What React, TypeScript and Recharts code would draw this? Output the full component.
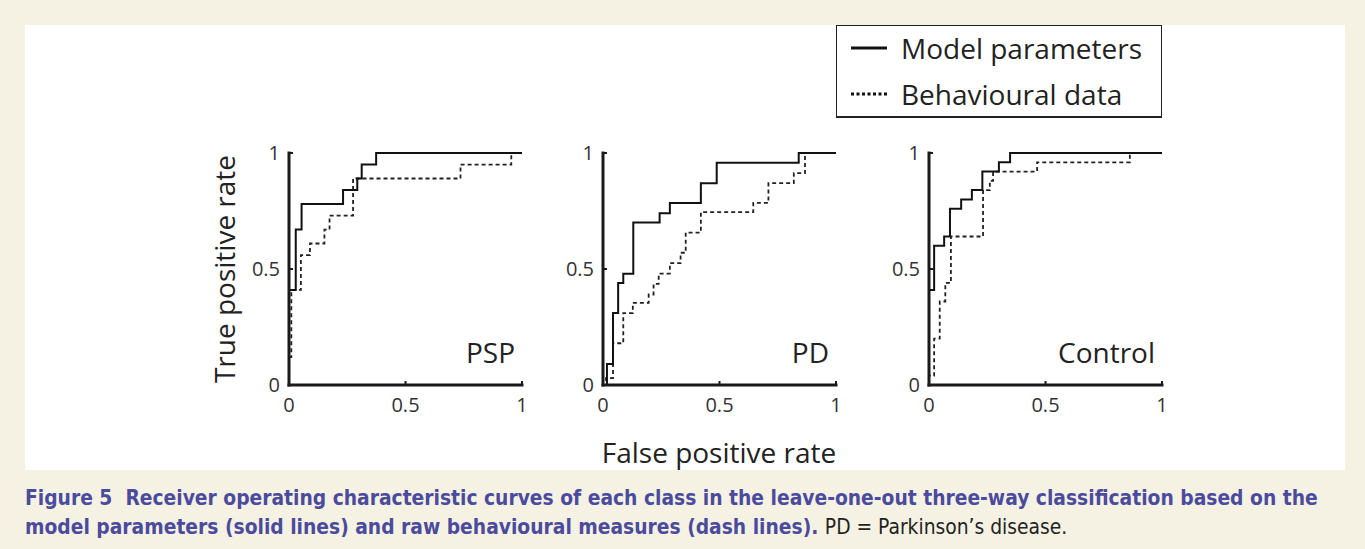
import React from 'react';
import { LineChart, Line, XAxis, YAxis } from 'recharts';

// axis ticks shared by every panel
const axisTicks = [0, 0.5, 1];
const axisTickLabels = ['0', '0.5', '1'];

const panelNames = ['PSP', 'PD', 'Control'];
const seriesNames = ['Model parameters', 'Behavioural data'];

// ROC vertices (false positive rate, true positive rate)
const pspModelFpr = [0, 0, 0.029, 0.054, 0.232, 0.293, 0.312, 0.374, 1];
const pspModelTpr = [0, 0.41, 0.67, 0.78, 0.84, 0.89, 0.95, 1, 1];
const pspBehavFpr = [0, 0, 0.01, 0.051, 0.09, 0.152, 0.174, 0.275, 0.736, 0.954, 1];
const pspBehavTpr = [0, 0.12, 0.41, 0.56, 0.61, 0.67, 0.73, 0.89, 0.95, 1, 1];

const pdModelFpr = [0, 0.017, 0.043, 0.065, 0.087, 0.13, 0.243, 0.287, 0.42, 0.488, 0.84, 1];
const pdModelTpr = [0, 0.09, 0.31, 0.44, 0.48, 0.7, 0.74, 0.785, 0.87, 0.958, 1, 1];
const pdBehavFpr = [0, 0.013, 0.043, 0.087, 0.128, 0.196, 0.217, 0.239, 0.287, 0.333, 0.355, 0.42, 0.645, 0.71, 0.819, 0.867, 1];
const pdBehavTpr = [0, 0.03, 0.18, 0.31, 0.354, 0.39, 0.436, 0.48, 0.525, 0.57, 0.657, 0.745, 0.785, 0.87, 0.913, 1, 1];

const ctrlModelFpr = [0, 0, 0.022, 0.065, 0.09, 0.138, 0.184, 0.229, 0.3, 0.348, 1];
const ctrlModelTpr = [0, 0.41, 0.6, 0.64, 0.76, 0.8, 0.84, 0.92, 0.96, 1, 1];
const ctrlBehavFpr = [0, 0, 0.022, 0.046, 0.07, 0.094, 0.232, 0.261, 0.275, 0.464, 0.862, 1];
const ctrlBehavTpr = [0, 0.04, 0.2, 0.36, 0.44, 0.64, 0.84, 0.88, 0.92, 0.96, 1, 1];

const zip = (fpr: number[], tpr: number[]) => fpr.map((f, i) => ({ fpr: f, tpr: tpr[i] }));

const panels = [
  { name: panelNames[0], model: zip(pspModelFpr, pspModelTpr), behav: zip(pspBehavFpr, pspBehavTpr), left: 240 },
  { name: panelNames[1], model: zip(pdModelFpr, pdModelTpr), behav: zip(pdBehavFpr, pdBehavTpr), left: 554 },
  { name: panelNames[2], model: zip(ctrlModelFpr, ctrlModelTpr), behav: zip(ctrlBehavFpr, ctrlBehavTpr), left: 880 },
];

const FONT = '"Open Sans", "Noto Sans", sans-serif';
const INK = '#1a1a1a';
const fmt = (v: number) => axisTickLabels[axisTicks.indexOf(v)];

const Panel = ({ p }: any) => (
  <div style={{ position: 'absolute', left: p.left, top: 128 }}>
    <LineChart width={302} height={297} margin={{ top: 25, right: 20, bottom: 0, left: 0 }}>
      <XAxis
        dataKey="fpr"
        type="number"
        domain={[0, 1]}
        ticks={axisTicks}
        tickFormatter={fmt}
        height={40}
        tickSize={-4}
        tickMargin={17}
        axisLine={{ stroke: INK, strokeWidth: 3, strokeLinecap: 'square' }}
        tickLine={{ stroke: INK, strokeWidth: 2 }}
        tick={{ fill: '#333', fontSize: 20, fontFamily: FONT }}
      />
      <YAxis
        type="number"
        domain={[0, 1]}
        ticks={axisTicks}
        tickFormatter={fmt}
        width={49}
        tickSize={-4}
        tickMargin={13}
        axisLine={{ stroke: INK, strokeWidth: 3, strokeLinecap: 'square' }}
        tickLine={{ stroke: INK, strokeWidth: 2 }}
        tick={{ fill: '#333', fontSize: 20, fontFamily: FONT }}
      />
      <Line data={p.behav} dataKey="tpr" type="stepAfter" stroke="#222" strokeWidth={1.8} strokeDasharray="4 3" dot={false} isAnimationActive={false} />
      <Line data={p.model} dataKey="tpr" type="stepAfter" stroke="#111" strokeWidth={2} dot={false} isAnimationActive={false} />
    </LineChart>
    <div style={{ position: 'absolute', right: 27, top: 204, fontFamily: FONT, fontSize: 28, color: '#222', lineHeight: '40px' }}>{p.name}</div>
  </div>
);

export default function App() {
  return (
    <div style={{ position: 'absolute', left: 0, top: 0, width: 1365, height: 549, background: '#f5f2e3', overflow: 'hidden' }}>
      <div style={{ position: 'absolute', left: 25, top: 25, width: 1320, height: 445, background: '#fff' }} />
      {panels.map((p) => (
        <Panel key={p.name} p={p} />
      ))}
      <div
        style={{
          position: 'absolute', left: 224, top: 269, transform: 'translate(-50%, -50%) rotate(-90deg)',
          fontFamily: FONT, fontSize: 28, color: '#222', whiteSpace: 'nowrap',
        }}
      >
        True positive rate
      </div>
      <div
        style={{
          position: 'absolute', left: 719, top: 452, transform: 'translate(-50%, -50%)',
          fontFamily: FONT, fontSize: 28, color: '#222', whiteSpace: 'nowrap',
        }}
      >
        False positive rate
      </div>
      <div
        style={{
          position: 'absolute', left: 836, top: 25, width: 326, height: 93, boxSizing: 'border-box',
          border: '1.5px solid #222', borderBottomWidth: 2, background: '#fff', fontFamily: FONT, fontSize: 28, color: '#222',
        }}
      >
        {seriesNames.map((s, i) => (
          <div key={s} style={{ position: 'absolute', left: 14, top: i === 0 ? 2 : 48, height: 40, display: 'flex', alignItems: 'center', whiteSpace: 'nowrap' }}>
            <svg width={36} height={6} style={{ marginRight: 14 }}>
              <line x1={0} y1={3} x2={36} y2={3} stroke="#111" strokeWidth={3} strokeDasharray={i === 0 ? undefined : '3 2.5'} />
            </svg>
            {s}
          </div>
        ))}
      </div>
      <div
        style={{
          position: 'absolute', left: 25, top: 484, width: 1320, fontFamily: '"DejaVu Sans Condensed", "DejaVu Sans", sans-serif',
          fontStretch: 'condensed', fontSize: 20.8, lineHeight: '29px', color: '#4b4b9e', fontWeight: 'bold', whiteSpace: 'nowrap',
        }}
      >
        Figure 5&nbsp;&nbsp;Receiver operating characteristic curves of each class in the leave-one-out three-way classification based on the
        <br />
        model parameters (solid lines) and raw behavioural measures (dash lines).{' '}
        <span style={{ fontWeight: 'normal', color: '#222' }}>PD = Parkinson’s disease.</span>
      </div>
    </div>
  );
}
